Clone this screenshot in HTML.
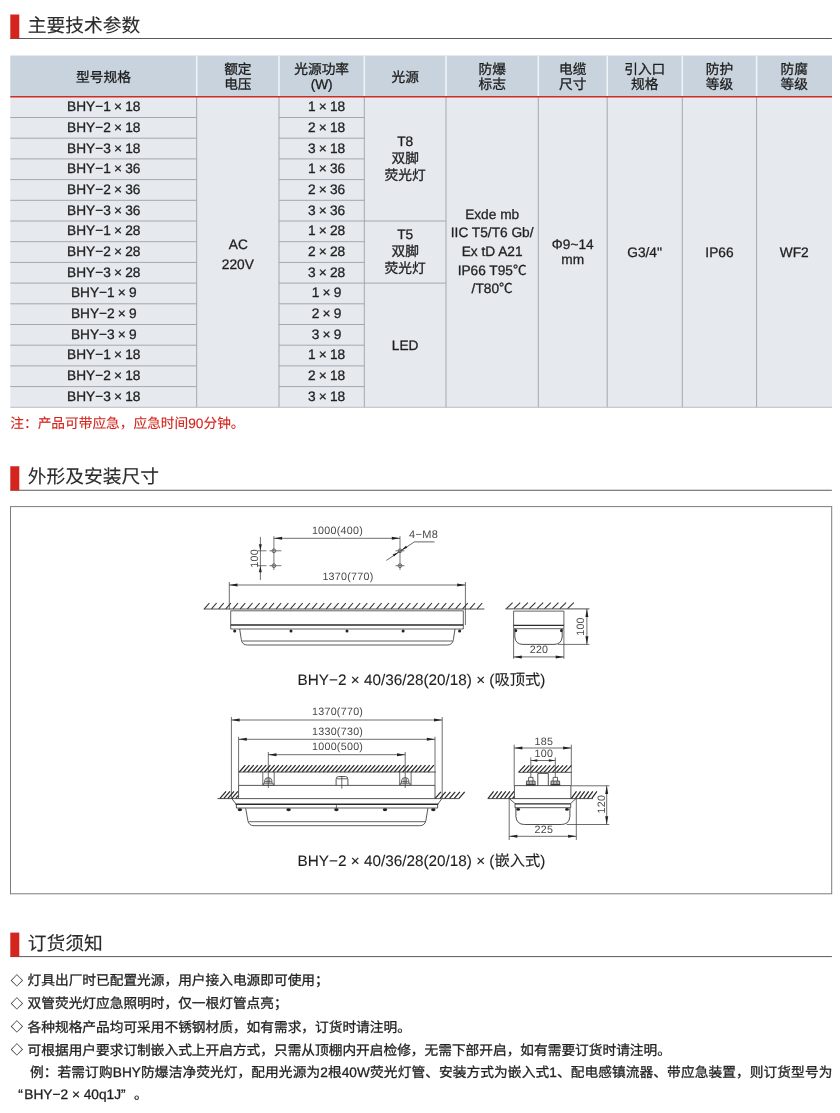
<!DOCTYPE html>
<html lang="zh-CN"><head><meta charset="utf-8"><title>主要技术参数</title><style>
html,body{margin:0;padding:0;background:#fff}
body{width:840px;height:1113px;position:relative;overflow:hidden;font-family:"Liberation Sans",sans-serif;font-size:13.7px;color:#1f1f1f;text-rendering:geometricPrecision}
#page{position:absolute;left:0;top:0;width:840px;height:1113px;will-change:transform;-webkit-text-stroke:0.3px currentColor}
svg.bg{position:absolute;left:0;top:0;-webkit-text-stroke:0}
h2.st{position:absolute;left:27.8px;margin:0;font-weight:normal;font-size:18.75px;line-height:26px;white-space:nowrap;color:#2a2a2a;-webkit-text-stroke:0.12px #2a2a2a}
.th{position:absolute;text-align:center;font-size:13.7px;line-height:15.7px;font-weight:500;-webkit-text-stroke:0.3px #1c1c1c;white-space:nowrap;color:#1c1c1c}
.th:first-of-type{}
.col{position:absolute;text-align:center;white-space:nowrap;word-spacing:-0.6px;text-indent:0.6px}
.col div{height:20.7px;line-height:20.7px}
.tc{position:absolute;text-align:center;white-space:nowrap}
.note{position:absolute;color:#d3241d;white-space:nowrap;line-height:23px;-webkit-text-stroke:0.12px #d3241d}
.li{position:absolute;left:10.3px;white-space:nowrap;line-height:23px}
.dm{display:inline-block;width:17.3px;font-size:12.2px;text-indent:0.5px;-webkit-text-stroke:0.1px currentColor;vertical-align:0.3px}
.ex{position:absolute;white-space:nowrap;line-height:23px;letter-spacing:0.09px}
.ex2{position:absolute;white-space:nowrap;line-height:23px}
.cap{position:absolute;left:221.5px;width:400px;text-align:center;font-size:15.3px;line-height:22px;white-space:nowrap;color:#1f1f1f;-webkit-text-stroke:0.1px #1f1f1f}
svg text{font-family:"Liberation Sans",sans-serif;letter-spacing:0.28px}
</style></head>
<body>
<div id="page">
<svg class="bg" width="840" height="1113" viewBox="0 0 840 1113">
<line x1="10.30" y1="38.50" x2="831.90" y2="38.50" stroke="#5a5a5a" stroke-width="1"/>
<rect x="10.30" y="14.50" width="9.00" height="24.20" fill="#d3241d"/>
<line x1="10.30" y1="490.25" x2="831.90" y2="490.25" stroke="#5a5a5a" stroke-width="1"/>
<rect x="10.30" y="466.25" width="9.00" height="24.20" fill="#d3241d"/>
<line x1="10.30" y1="956.60" x2="831.90" y2="956.60" stroke="#5a5a5a" stroke-width="1"/>
<rect x="10.30" y="932.60" width="9.00" height="24.20" fill="#d3241d"/>
<rect x="10.30" y="55.50" width="821.70" height="41.30" fill="#c8d3dd"/>
<rect x="10.30" y="96.80" width="821.70" height="310.50" fill="#e6eaee"/>
<line x1="196.70" y1="55.50" x2="196.70" y2="96.80" stroke="#eef3f6" stroke-width="1.6"/>
<line x1="196.70" y1="96.80" x2="196.70" y2="407.30" stroke="#a3a8af" stroke-width="1"/>
<line x1="279.00" y1="55.50" x2="279.00" y2="96.80" stroke="#eef3f6" stroke-width="1.6"/>
<line x1="279.00" y1="96.80" x2="279.00" y2="407.30" stroke="#a3a8af" stroke-width="1"/>
<line x1="364.30" y1="55.50" x2="364.30" y2="96.80" stroke="#eef3f6" stroke-width="1.6"/>
<line x1="364.30" y1="96.80" x2="364.30" y2="407.30" stroke="#a3a8af" stroke-width="1"/>
<line x1="446.00" y1="55.50" x2="446.00" y2="96.80" stroke="#eef3f6" stroke-width="1.6"/>
<line x1="446.00" y1="96.80" x2="446.00" y2="407.30" stroke="#a3a8af" stroke-width="1"/>
<line x1="538.30" y1="55.50" x2="538.30" y2="96.80" stroke="#eef3f6" stroke-width="1.6"/>
<line x1="538.30" y1="96.80" x2="538.30" y2="407.30" stroke="#a3a8af" stroke-width="1"/>
<line x1="607.20" y1="55.50" x2="607.20" y2="96.80" stroke="#eef3f6" stroke-width="1.6"/>
<line x1="607.20" y1="96.80" x2="607.20" y2="407.30" stroke="#a3a8af" stroke-width="1"/>
<line x1="682.30" y1="55.50" x2="682.30" y2="96.80" stroke="#eef3f6" stroke-width="1.6"/>
<line x1="682.30" y1="96.80" x2="682.30" y2="407.30" stroke="#a3a8af" stroke-width="1"/>
<line x1="756.60" y1="55.50" x2="756.60" y2="96.80" stroke="#eef3f6" stroke-width="1.6"/>
<line x1="756.60" y1="96.80" x2="756.60" y2="407.30" stroke="#a3a8af" stroke-width="1"/>
<line x1="10.30" y1="117.50" x2="196.70" y2="117.50" stroke="#a3a8af" stroke-width="1"/>
<line x1="279.00" y1="117.50" x2="364.30" y2="117.50" stroke="#a3a8af" stroke-width="1"/>
<line x1="10.30" y1="138.20" x2="196.70" y2="138.20" stroke="#a3a8af" stroke-width="1"/>
<line x1="279.00" y1="138.20" x2="364.30" y2="138.20" stroke="#a3a8af" stroke-width="1"/>
<line x1="10.30" y1="158.90" x2="196.70" y2="158.90" stroke="#a3a8af" stroke-width="1"/>
<line x1="279.00" y1="158.90" x2="364.30" y2="158.90" stroke="#a3a8af" stroke-width="1"/>
<line x1="10.30" y1="179.60" x2="196.70" y2="179.60" stroke="#a3a8af" stroke-width="1"/>
<line x1="279.00" y1="179.60" x2="364.30" y2="179.60" stroke="#a3a8af" stroke-width="1"/>
<line x1="10.30" y1="200.30" x2="196.70" y2="200.30" stroke="#a3a8af" stroke-width="1"/>
<line x1="279.00" y1="200.30" x2="364.30" y2="200.30" stroke="#a3a8af" stroke-width="1"/>
<line x1="10.30" y1="221.00" x2="196.70" y2="221.00" stroke="#a3a8af" stroke-width="1"/>
<line x1="279.00" y1="221.00" x2="364.30" y2="221.00" stroke="#a3a8af" stroke-width="1"/>
<line x1="10.30" y1="241.70" x2="196.70" y2="241.70" stroke="#a3a8af" stroke-width="1"/>
<line x1="279.00" y1="241.70" x2="364.30" y2="241.70" stroke="#a3a8af" stroke-width="1"/>
<line x1="10.30" y1="262.40" x2="196.70" y2="262.40" stroke="#a3a8af" stroke-width="1"/>
<line x1="279.00" y1="262.40" x2="364.30" y2="262.40" stroke="#a3a8af" stroke-width="1"/>
<line x1="10.30" y1="283.10" x2="196.70" y2="283.10" stroke="#a3a8af" stroke-width="1"/>
<line x1="279.00" y1="283.10" x2="364.30" y2="283.10" stroke="#a3a8af" stroke-width="1"/>
<line x1="10.30" y1="303.80" x2="196.70" y2="303.80" stroke="#a3a8af" stroke-width="1"/>
<line x1="279.00" y1="303.80" x2="364.30" y2="303.80" stroke="#a3a8af" stroke-width="1"/>
<line x1="10.30" y1="324.50" x2="196.70" y2="324.50" stroke="#a3a8af" stroke-width="1"/>
<line x1="279.00" y1="324.50" x2="364.30" y2="324.50" stroke="#a3a8af" stroke-width="1"/>
<line x1="10.30" y1="345.20" x2="196.70" y2="345.20" stroke="#a3a8af" stroke-width="1"/>
<line x1="279.00" y1="345.20" x2="364.30" y2="345.20" stroke="#a3a8af" stroke-width="1"/>
<line x1="10.30" y1="365.90" x2="196.70" y2="365.90" stroke="#a3a8af" stroke-width="1"/>
<line x1="279.00" y1="365.90" x2="364.30" y2="365.90" stroke="#a3a8af" stroke-width="1"/>
<line x1="10.30" y1="386.60" x2="196.70" y2="386.60" stroke="#a3a8af" stroke-width="1"/>
<line x1="279.00" y1="386.60" x2="364.30" y2="386.60" stroke="#a3a8af" stroke-width="1"/>
<line x1="364.30" y1="221.00" x2="446.00" y2="221.00" stroke="#a3a8af" stroke-width="1"/>
<line x1="364.30" y1="283.10" x2="446.00" y2="283.10" stroke="#a3a8af" stroke-width="1"/>
<line x1="10.30" y1="407.30" x2="832.00" y2="407.30" stroke="#b9bec4" stroke-width="1"/>
<line x1="10.30" y1="96.80" x2="832.00" y2="96.80" stroke="#cf2b24" stroke-width="1.6"/>
<rect x="10.5" y="506.6" width="821.2" height="387.2" fill="#fff" stroke="#7c7c7c" stroke-width="1"/>
<g fill="none" stroke-linecap="butt">
<text x="337.5" y="533.6" font-size="10.7" text-anchor="middle" fill="#484848">1000(400)</text>
<path d="M273.9 538.3L400.0 538.3" stroke="#3f3f3f" stroke-width="0.75"/>
<path d="M273.9 538.3L282.1 536.8L282.1 539.8Z" fill="#222"/>
<path d="M400.0 538.3L391.8 539.8L391.8 536.8Z" fill="#222"/>
<path d="M273.9 536.2L273.9 570.0" stroke="#3f3f3f" stroke-width="0.7"/>
<circle cx="273.9" cy="550.8" r="1.9" stroke="#3b3b3b" stroke-width="0.7"/>
<path d="M269.4 550.8L281.4 550.8" stroke="#3f3f3f" stroke-width="0.7"/>
<circle cx="273.9" cy="565.7" r="1.9" stroke="#3b3b3b" stroke-width="0.7"/>
<path d="M269.4 565.7L281.4 565.7" stroke="#3f3f3f" stroke-width="0.7"/>
<path d="M400.0 536.2L400.0 570.0" stroke="#3f3f3f" stroke-width="0.7"/>
<circle cx="400.0" cy="550.8" r="1.9" stroke="#3b3b3b" stroke-width="0.7"/>
<path d="M395.5 550.8L404.5 550.8" stroke="#3f3f3f" stroke-width="0.7"/>
<circle cx="400.0" cy="565.7" r="1.9" stroke="#3b3b3b" stroke-width="0.7"/>
<path d="M395.5 565.7L404.5 565.7" stroke="#3f3f3f" stroke-width="0.7"/>
<path d="M260.4 536.9L260.4 580.0" stroke="#3f3f3f" stroke-width="0.75"/>
<path d="M260.4 550.8L258.9 544.2L261.8 544.2Z" fill="#222"/>
<path d="M260.4 565.7L261.8 572.3L258.9 572.3Z" fill="#222"/>
<path d="M257.6 550.8L266.5 550.8" stroke="#3f3f3f" stroke-width="0.7"/>
<path d="M257.6 565.7L266.5 565.7" stroke="#3f3f3f" stroke-width="0.7"/>
<text x="258.0" y="558.3" font-size="10.7" text-anchor="middle" fill="#484848" transform="rotate(-90 258.0 558.3)">100</text>
<path d="M386.4 560.4L414.3 541.9" stroke="#3f3f3f" stroke-width="0.8"/>
<path d="M414.3 541.9L434.5 541.9" stroke="#3f3f3f" stroke-width="0.8"/>
<path d="M398.7 551.9L394.0 556.5L392.7 554.5Z" fill="#222"/>
<path d="M401.3 550.3L406.0 545.7L407.3 547.7Z" fill="#222"/>
<text x="423.6" y="538.4" font-size="11" text-anchor="middle" fill="#484848">4−M8</text>
<text x="348.0" y="580.3" font-size="10.7" text-anchor="middle" fill="#484848">1370(770)</text>
<path d="M229.3 585.0L465.4 585.0" stroke="#3f3f3f" stroke-width="0.75"/>
<path d="M229.3 585.0L237.5 583.5L237.5 586.5Z" fill="#222"/>
<path d="M465.4 585.0L457.2 586.5L457.2 583.5Z" fill="#222"/>
<path d="M229.3 582.0L229.3 609.0" stroke="#3f3f3f" stroke-width="0.75"/>
<path d="M465.4 582.0L465.4 625.0" stroke="#3f3f3f" stroke-width="0.75"/>
<path d="M203.6 609.0L484.4 609.0" stroke="#3b3b3b" stroke-width="0.9"/>
<path d="M204.3 608.8l5.1 -5.8M211.5 608.8l5.1 -5.8M218.7 608.8l5.1 -5.8M225.8 608.8l5.1 -5.8M233.0 608.8l5.1 -5.8M240.2 608.8l5.1 -5.8M247.4 608.8l5.1 -5.8M254.6 608.8l5.1 -5.8M261.7 608.8l5.1 -5.8M268.9 608.8l5.1 -5.8M276.1 608.8l5.1 -5.8M283.3 608.8l5.1 -5.8M290.4 608.8l5.1 -5.8M297.6 608.8l5.1 -5.8M304.8 608.8l5.1 -5.8M312.0 608.8l5.1 -5.8M319.2 608.8l5.1 -5.8M326.3 608.8l5.1 -5.8M333.5 608.8l5.1 -5.8M340.7 608.8l5.1 -5.8M347.9 608.8l5.1 -5.8M355.1 608.8l5.1 -5.8M362.2 608.8l5.1 -5.8M369.4 608.8l5.1 -5.8M376.6 608.8l5.1 -5.8M383.8 608.8l5.1 -5.8M391.0 608.8l5.1 -5.8M398.1 608.8l5.1 -5.8M405.3 608.8l5.1 -5.8M412.5 608.8l5.1 -5.8M419.7 608.8l5.1 -5.8M426.8 608.8l5.1 -5.8M434.0 608.8l5.1 -5.8M441.2 608.8l5.1 -5.8M448.4 608.8l5.1 -5.8M455.6 608.8l5.1 -5.8M462.7 608.8l5.1 -5.8M469.9 608.8l5.1 -5.8M477.1 608.8l5.1 -5.8" stroke="#333" stroke-width="1.1"/>
<path d="M230.7 610.8H463.3V629H230.7Z" stroke="#3b3b3b" stroke-width="0.8" fill="none"/>
<path d="M230.7 625.0L463.3 625.0" stroke="#2a2a2a" stroke-width="1.3"/>
<ellipse cx="234.7" cy="631.0" rx="1.5" ry="1.5" fill="#222"/>
<ellipse cx="291.0" cy="631.0" rx="1.5" ry="1.5" fill="#222"/>
<ellipse cx="347.0" cy="631.0" rx="1.5" ry="1.5" fill="#222"/>
<ellipse cx="403.1" cy="631.0" rx="1.5" ry="1.5" fill="#222"/>
<ellipse cx="459.6" cy="631.0" rx="1.5" ry="1.5" fill="#222"/>
<path d="M239.7 629L241.3 639.5Q242 645 247.5 645H447.3Q452.6 645 453.4 639.5L455 629" stroke="#3b3b3b" stroke-width="0.85" fill="none"/>
<path d="M242.4 641.0L452.6 641.0" stroke="#3b3b3b" stroke-width="0.8"/>
<text x="421.5" y="685.0" font-size="1" text-anchor="middle" fill="#484848"></text>
<path d="M505.3 608.9L589.4 608.9" stroke="#3b3b3b" stroke-width="0.9"/>
<path d="M506.4 608.7l6.2 -6.0M514.0 608.7l6.2 -6.0M521.7 608.7l6.2 -6.0M529.3 608.7l6.2 -6.0M537.0 608.7l6.2 -6.0M544.6 608.7l6.2 -6.0M552.3 608.7l6.2 -6.0M559.9 608.7l6.2 -6.0M567.6 608.7l6.2 -6.0" stroke="#333" stroke-width="1.05"/>
<path d="M513.6 611.1H563.9V628.7H513.6Z" stroke="#3b3b3b" stroke-width="0.8" fill="none"/>
<path d="M513.6 625.4L563.9 625.4" stroke="#2a2a2a" stroke-width="1.3"/>
<path d="M514.8 628.7V637Q515.5 644.4 523 644.4H554Q561.4 644.4 562.2 637V628.7" stroke="#3b3b3b" stroke-width="0.9" fill="none"/>
<ellipse cx="515.9" cy="630.6" rx="1.3" ry="1.6" fill="#222"/>
<ellipse cx="561.3" cy="630.6" rx="1.3" ry="1.6" fill="#222"/>
<path d="M513.6 629.0L513.6 658.8" stroke="#3f3f3f" stroke-width="0.75"/>
<path d="M563.9 629.0L563.9 658.8" stroke="#3f3f3f" stroke-width="0.75"/>
<path d="M513.6 656.9L563.9 656.9" stroke="#3f3f3f" stroke-width="0.75"/>
<path d="M513.6 656.9L521.8 655.4L521.8 658.4Z" fill="#222"/>
<path d="M563.9 656.9L555.7 658.4L555.7 655.4Z" fill="#222"/>
<text x="539.0" y="653.4" font-size="10.7" text-anchor="middle" fill="#484848">220</text>
<path d="M557.9 644.4L589.4 644.4" stroke="#3f3f3f" stroke-width="0.75"/>
<path d="M586.9 608.9L586.9 644.4" stroke="#3f3f3f" stroke-width="0.75"/>
<path d="M586.9 608.9L588.4 617.1L585.4 617.1Z" fill="#222"/>
<path d="M586.9 644.4L585.4 636.2L588.4 636.2Z" fill="#222"/>
<text x="584.0" y="626.5" font-size="10.7" text-anchor="middle" fill="#484848" transform="rotate(-90 584.0 626.5)">100</text>
<text x="337.6" y="715.4" font-size="10.7" text-anchor="middle" fill="#484848">1370(770)</text>
<path d="M231.4 720.0L442.2 720.0" stroke="#3f3f3f" stroke-width="0.75"/>
<path d="M231.4 720.0L239.6 718.5L239.6 721.5Z" fill="#222"/>
<path d="M442.2 720.0L434.0 721.5L434.0 718.5Z" fill="#222"/>
<path d="M231.4 717.0L231.4 798.6" stroke="#3f3f3f" stroke-width="0.75"/>
<path d="M442.2 717.0L442.2 798.6" stroke="#3f3f3f" stroke-width="0.75"/>
<text x="337.6" y="735.0" font-size="10.7" text-anchor="middle" fill="#484848">1330(730)</text>
<path d="M238.6 739.3L435.0 739.3" stroke="#3f3f3f" stroke-width="0.75"/>
<path d="M238.6 739.3L246.8 737.8L246.8 740.8Z" fill="#222"/>
<path d="M435.0 739.3L426.8 740.8L426.8 737.8Z" fill="#222"/>
<path d="M238.6 736.8L238.6 785.4" stroke="#3f3f3f" stroke-width="0.75"/>
<path d="M435.0 736.8L435.0 785.4" stroke="#3f3f3f" stroke-width="0.75"/>
<text x="337.6" y="750.3" font-size="10.7" text-anchor="middle" fill="#484848">1000(500)</text>
<path d="M268.3 754.7L405.2 754.7" stroke="#3f3f3f" stroke-width="0.75"/>
<path d="M268.3 754.7L276.5 753.2L276.5 756.2Z" fill="#222"/>
<path d="M405.2 754.7L397.0 756.2L397.0 753.2Z" fill="#222"/>
<path d="M268.3 752.0L268.3 788.0" stroke="#3f3f3f" stroke-width="0.75"/>
<path d="M405.2 752.0L405.2 788.0" stroke="#3f3f3f" stroke-width="0.75"/>
<path d="M239.3 772.0l6.0 -6.9M243.5 772.0l6.0 -6.9M247.7 772.0l6.0 -6.9M251.9 772.0l6.0 -6.9M256.1 772.0l6.0 -6.9M260.2 772.0l6.0 -6.9M264.4 772.0l6.0 -6.9M268.6 772.0l6.0 -6.9M272.8 772.0l6.0 -6.9M277.0 772.0l6.0 -6.9M281.2 772.0l6.0 -6.9M285.4 772.0l6.0 -6.9M289.6 772.0l6.0 -6.9M293.8 772.0l6.0 -6.9M298.0 772.0l6.0 -6.9M302.1 772.0l6.0 -6.9M306.3 772.0l6.0 -6.9M310.5 772.0l6.0 -6.9M314.7 772.0l6.0 -6.9M318.9 772.0l6.0 -6.9M323.1 772.0l6.0 -6.9M327.3 772.0l6.0 -6.9M331.5 772.0l6.0 -6.9M335.7 772.0l6.0 -6.9M339.9 772.0l6.0 -6.9M344.0 772.0l6.0 -6.9M348.2 772.0l6.0 -6.9M352.4 772.0l6.0 -6.9M356.6 772.0l6.0 -6.9M360.8 772.0l6.0 -6.9M365.0 772.0l6.0 -6.9M369.2 772.0l6.0 -6.9M373.4 772.0l6.0 -6.9M377.6 772.0l6.0 -6.9M381.8 772.0l6.0 -6.9M385.9 772.0l6.0 -6.9M390.1 772.0l6.0 -6.9M394.3 772.0l6.0 -6.9M398.5 772.0l6.0 -6.9M402.7 772.0l6.0 -6.9M406.9 772.0l6.0 -6.9M411.1 772.0l6.0 -6.9M415.3 772.0l6.0 -6.9M419.5 772.0l6.0 -6.9M423.7 772.0l6.0 -6.9M427.8 772.0l6.0 -6.9" stroke="#2c2c2c" stroke-width="1.25"/>
<path d="M238.6 772.0L435.7 772.0" stroke="#3b3b3b" stroke-width="0.9"/>
<path d="M262.8 772.0L262.8 785.4" stroke="#3b3b3b" stroke-width="0.75"/>
<path d="M274.2 772.0L274.2 785.4" stroke="#3b3b3b" stroke-width="0.75"/>
<path d="M264.7 783.2V780.6Q264.9 777.6 268.3 777.6Q271.7 777.6 271.9 780.6V783.2" stroke="#3b3b3b" stroke-width="0.8" fill="none"/>
<path d="M263.3 783.3H273.3V785.2H263.3Z" stroke="#3b3b3b" stroke-width="0.7" fill="none"/>
<path d="M264.7 781.4L271.9 781.4" stroke="#3b3b3b" stroke-width="0.7"/>
<path d="M267.0 778.2L267.0 783.2" stroke="#3b3b3b" stroke-width="0.6"/>
<path d="M269.6 778.2L269.6 783.2" stroke="#3b3b3b" stroke-width="0.6"/>
<path d="M399.7 772.0L399.7 785.4" stroke="#3b3b3b" stroke-width="0.75"/>
<path d="M411.1 772.0L411.1 785.4" stroke="#3b3b3b" stroke-width="0.75"/>
<path d="M401.6 783.2V780.6Q401.8 777.6 405.2 777.6Q408.6 777.6 408.8 780.6V783.2" stroke="#3b3b3b" stroke-width="0.8" fill="none"/>
<path d="M400.2 783.3H410.2V785.2H400.2Z" stroke="#3b3b3b" stroke-width="0.7" fill="none"/>
<path d="M401.6 781.4L408.8 781.4" stroke="#3b3b3b" stroke-width="0.7"/>
<path d="M403.9 778.2L403.9 783.2" stroke="#3b3b3b" stroke-width="0.6"/>
<path d="M406.5 778.2L406.5 783.2" stroke="#3b3b3b" stroke-width="0.6"/>
<path d="M336.1 785.4V779.4Q336.1 776.5 338.6 776.5H345.4Q347.9 776.5 347.9 779.4V785.4" stroke="#3b3b3b" stroke-width="0.85" fill="none"/>
<path d="M336.8 778.8L347.2 778.8" stroke="#3b3b3b" stroke-width="0.8"/>
<path d="M341.8 776.0L341.8 788.6" stroke="#3b3b3b" stroke-width="0.75"/>
<path d="M238.6 798.6V785.4H435V798.6" stroke="#3b3b3b" stroke-width="0.85" fill="none"/>
<path d="M231.4 798.6L442.2 798.6" stroke="#3b3b3b" stroke-width="0.85"/>
<path d="M217.5 798.6L231.4 798.6" stroke="#3b3b3b" stroke-width="0.9"/>
<path d="M442.2 798.6L459.4 798.6" stroke="#3b3b3b" stroke-width="0.9"/>
<path d="M220.0 798.4L226.1 791.4M223.9 798.4L230.0 791.4M227.9 798.4L234.0 791.4M231.8 798.4L237.9 791.4M235.7 798.4L238.4 795.3" stroke="#2c2c2c" stroke-width="1.25"/>
<path d="M435.2 798.4L440.9 791.8M440.0 798.4L445.7 791.8M444.7 798.4L450.4 791.8M449.5 798.4L455.2 791.8M454.2 798.4L459.9 791.8M459.0 798.4L464.7 791.8" stroke="#2c2c2c" stroke-width="1.25"/>
<path d="M231.8 798.6L236.4 804.6V808.0H437.6V804.6L441.8 798.6" stroke="#3b3b3b" stroke-width="0.85" fill="none"/>
<path d="M235.6 804.3L438.2 804.3" stroke="#2a2a2a" stroke-width="1.5"/>
<path d="M336.4 804.3L336.4 808.0" stroke="#3b3b3b" stroke-width="0.7"/>
<ellipse cx="239.9" cy="809.8" rx="2.2" ry="1.45" fill="#222"/>
<ellipse cx="288.6" cy="809.8" rx="2.2" ry="1.45" fill="#222"/>
<ellipse cx="336.4" cy="809.8" rx="2.2" ry="1.45" fill="#222"/>
<ellipse cx="385.0" cy="809.8" rx="2.2" ry="1.45" fill="#222"/>
<ellipse cx="433.3" cy="809.8" rx="2.2" ry="1.45" fill="#222"/>
<path d="M245.7 808.3L247.8 820.5Q248.8 825.7 254.0 825.7H419.6Q424.9 825.7 425.9 820.5L427.9 808.3" stroke="#3b3b3b" stroke-width="0.85" fill="none"/>
<path d="M248.4 821.7L425.4 821.7" stroke="#3b3b3b" stroke-width="0.8"/>
<text x="543.8" y="744.6" font-size="10.7" text-anchor="middle" fill="#484848">185</text>
<path d="M514.2 748.0L571.3 748.0" stroke="#3f3f3f" stroke-width="0.75"/>
<path d="M514.2 748.0L522.4 746.5L522.4 749.5Z" fill="#222"/>
<path d="M571.3 748.0L563.1 749.5L563.1 746.5Z" fill="#222"/>
<path d="M514.2 744.7L514.2 785.8" stroke="#3f3f3f" stroke-width="0.75"/>
<path d="M571.3 744.7L571.3 785.8" stroke="#3f3f3f" stroke-width="0.75"/>
<text x="543.8" y="757.4" font-size="10.7" text-anchor="middle" fill="#484848">100</text>
<path d="M530.8 760.5L555.3 760.5" stroke="#3f3f3f" stroke-width="0.75"/>
<path d="M530.8 760.5L537.3 759.3L537.3 761.7Z" fill="#222"/>
<path d="M555.3 760.5L548.8 761.7L548.8 759.3Z" fill="#222"/>
<path d="M530.8 757.5L530.8 777.4" stroke="#3f3f3f" stroke-width="0.75"/>
<path d="M555.3 757.5L555.3 777.4" stroke="#3f3f3f" stroke-width="0.75"/>
<path d="M518.8 772.2l6.3 -6.9M523.0 772.2l6.3 -6.9M527.2 772.2l6.3 -6.9M531.4 772.2l6.3 -6.9M535.6 772.2l6.3 -6.9M539.9 772.2l6.3 -6.9M544.1 772.2l6.3 -6.9M548.3 772.2l6.3 -6.9M552.5 772.2l6.3 -6.9M556.7 772.2l6.3 -6.9M560.9 772.2l6.3 -6.9M565.1 772.2l6.3 -6.9" stroke="#2c2c2c" stroke-width="1.25"/>
<path d="M518.3 772.3L571.7 772.3" stroke="#3b3b3b" stroke-width="0.9"/>
<path d="M537.8 785.8V773.4H548.3V785.8" stroke="#3b3b3b" stroke-width="0.9" fill="none"/>
<path d="M528.6 781V777.4H533.0V781" stroke="#3b3b3b" stroke-width="0.8" fill="none"/>
<path d="M526.5 781H535.1V784.4H526.5Z" stroke="#3b3b3b" stroke-width="0.8" fill="#bbb"/>
<path d="M529.2 781.0L529.2 784.4" stroke="#3b3b3b" stroke-width="0.6"/>
<path d="M532.4 781.0L532.4 784.4" stroke="#3b3b3b" stroke-width="0.6"/>
<path d="M525.8 785.0L535.8 785.0" stroke="#2a2a2a" stroke-width="1.3"/>
<path d="M553.1 781V777.4H557.5V781" stroke="#3b3b3b" stroke-width="0.8" fill="none"/>
<path d="M551.0 781H559.6V784.4H551.0Z" stroke="#3b3b3b" stroke-width="0.8" fill="#bbb"/>
<path d="M553.7 781.0L553.7 784.4" stroke="#3b3b3b" stroke-width="0.6"/>
<path d="M556.9 781.0L556.9 784.4" stroke="#3b3b3b" stroke-width="0.6"/>
<path d="M550.3 785.0L560.3 785.0" stroke="#2a2a2a" stroke-width="1.3"/>
<path d="M514.4 798.5V785.6H570.9V798.5" stroke="#3b3b3b" stroke-width="0.85" fill="none"/>
<path d="M487.5 798.6L593.0 798.6" stroke="#3b3b3b" stroke-width="0.9"/>
<path d="M488.2 798.4L493.6 791.4M492.3 798.4L497.7 791.4M496.3 798.4L501.7 791.4M500.4 798.4L505.8 791.4M504.5 798.4L509.9 791.4M508.6 798.4L514.0 791.4M512.6 798.4L514.2 796.4" stroke="#2c2c2c" stroke-width="1.25"/>
<path d="M571.4 798.4L576.5 791.4M575.5 798.4L580.6 791.4M579.5 798.4L584.6 791.4M583.6 798.4L588.7 791.4M587.7 798.4L592.8 791.4M591.8 798.4L596.9 791.4" stroke="#2c2c2c" stroke-width="1.25"/>
<path d="M509.3 798.5L515.4 803.9M570.3 803.9L576.0 798.5" stroke="#3b3b3b" stroke-width="0.85" fill="none"/>
<path d="M515.0 803.9L570.7 803.9" stroke="#2a2a2a" stroke-width="1.4"/>
<path d="M515.0 803.8V807.7H570.7V803.8" stroke="#3b3b3b" stroke-width="0.85" fill="none"/>
<path d="M515.9 807.7V816.5Q516.6 824.5 524.6 824.5H561.2Q569.2 824.5 569.9 816.5V807.7" stroke="#3b3b3b" stroke-width="0.9" fill="none"/>
<ellipse cx="518.2" cy="809.4" rx="1.9" ry="1.4" fill="#222"/>
<ellipse cx="567.0" cy="809.4" rx="1.9" ry="1.4" fill="#222"/>
<text x="543.8" y="833.0" font-size="10.7" text-anchor="middle" fill="#484848">225</text>
<path d="M509.2 836.3L576.3 836.3" stroke="#3f3f3f" stroke-width="0.75"/>
<path d="M509.2 836.3L517.4 834.8L517.4 837.8Z" fill="#222"/>
<path d="M576.3 836.3L568.1 837.8L568.1 834.8Z" fill="#222"/>
<path d="M509.2 798.3L509.2 840.0" stroke="#3f3f3f" stroke-width="0.75"/>
<path d="M576.3 798.3L576.3 840.0" stroke="#3f3f3f" stroke-width="0.75"/>
<path d="M571.3 785.8L609.3 785.8" stroke="#3f3f3f" stroke-width="0.75"/>
<path d="M566.7 824.5L609.3 824.5" stroke="#3f3f3f" stroke-width="0.75"/>
<path d="M606.7 785.8L606.7 824.5" stroke="#3f3f3f" stroke-width="0.75"/>
<path d="M606.7 785.8L608.2 794.0L605.2 794.0Z" fill="#222"/>
<path d="M606.7 824.5L605.2 816.3L608.2 816.3Z" fill="#222"/>
<text x="604.6" y="804.2" font-size="10.7" text-anchor="middle" fill="#484848" transform="rotate(-90 604.6 804.2)">120</text>
</g>
</svg>
<h2 class="st" style="top:12.50px">主要技术参数</h2>
<h2 class="st" style="top:464.25px">外形及安装尺寸</h2>
<h2 class="st" style="top:930.60px">订货须知</h2>
<div class="th" style="left:10.30px;width:186.40px;top:70.10px">型号规格</div>
<div class="th" style="left:196.70px;width:82.30px;top:61.70px">额定<br>电压</div>
<div class="th" style="left:279.00px;width:85.30px;top:61.70px">光源功率<br>(W)</div>
<div class="th" style="left:364.30px;width:81.70px;top:70.10px">光源</div>
<div class="th" style="left:446.00px;width:92.30px;top:61.70px">防爆<br>标志</div>
<div class="th" style="left:538.30px;width:68.90px;top:61.70px">电缆<br>尺寸</div>
<div class="th" style="left:607.20px;width:75.10px;top:61.70px">引入口<br>规格</div>
<div class="th" style="left:682.30px;width:74.30px;top:61.70px">防护<br>等级</div>
<div class="th" style="left:756.60px;width:75.40px;top:61.70px">防腐<br>等级</div>
<div class="col" style="left:10.30px;width:186.40px;top:97.20px"><div>BHY−1 × 18</div><div>BHY−2 × 18</div><div>BHY−3 × 18</div><div>BHY−1 × 36</div><div>BHY−2 × 36</div><div>BHY−3 × 36</div><div>BHY−1 × 28</div><div>BHY−2 × 28</div><div>BHY−3 × 28</div><div>BHY−1 × 9</div><div>BHY−2 × 9</div><div>BHY−3 × 9</div><div>BHY−1 × 18</div><div>BHY−2 × 18</div><div>BHY−3 × 18</div></div>
<div class="col" style="left:283.60px;width:85.30px;top:97.20px"><div>1 × 18</div><div>2 × 18</div><div>3 × 18</div><div>1 × 36</div><div>2 × 36</div><div>3 × 36</div><div>1 × 28</div><div>2 × 28</div><div>3 × 28</div><div>1 × 9</div><div>2 × 9</div><div>3 × 9</div><div>1 × 18</div><div>2 × 18</div><div>3 × 18</div></div>
<div class="tc" style="left:196.70px;width:82.30px;top:234.60px;line-height:20.0px;text-indent:1px">AC<br>220V</div>
<div class="tc" style="left:364.30px;width:81.70px;top:132.90px;line-height:17.0px;">T8<br>双脚<br>荧光灯</div>
<div class="tc" style="left:364.30px;width:81.70px;top:225.50px;line-height:17.0px;">T5<br>双脚<br>荧光灯</div>
<div class="tc" style="left:364.30px;width:81.70px;top:336.50px;line-height:17.0px;">LED</div>
<div class="tc" style="left:446.00px;width:92.30px;top:205.55px;line-height:18.7px;">Exde mb<br>IIC T5/T6 Gb/<br>Ex tD A21<br>IP66 T95℃<br>/T80℃</div>
<div class="tc" style="left:538.30px;width:68.90px;top:237.00px;line-height:15.4px;">Φ9~14<br>mm</div>
<div class="tc" style="left:607.20px;width:75.10px;top:243.50px;line-height:17.0px;">G3/4''</div>
<div class="tc" style="left:682.30px;width:74.30px;top:243.50px;line-height:17.0px;">IP66</div>
<div class="tc" style="left:756.60px;width:75.40px;top:243.50px;line-height:17.0px;">WF2</div>
<div class="note" style="left:10.3px;top:411.6px">注：产品可带应急，应急时间90分钟。</div>
<div class="cap" style="top:669.8px">BHY−2 × 40/36/28(20/18) × (吸顶式)</div>
<div class="cap" style="top:851.4px">BHY−2 × 40/36/28(20/18) × (嵌入式)</div>
<div class="li" style="top:969.30px"><span class="dm">◇</span>灯具出厂时已配置光源，用户接入电源即可使用；</div>
<div class="li" style="top:992.30px"><span class="dm">◇</span>双管荧光灯应急照明时，仅一根灯管点亮；</div>
<div class="li" style="top:1015.50px"><span class="dm">◇</span>各种规格产品均可采用不锈钢材质，如有需求，订货时请注明。</div>
<div class="li" style="top:1038.70px"><span class="dm">◇</span>可根据用户要求订制嵌入式上开启方式，只需从顶棚内开启检修，无需下部开启，如有需要订货时请注明。</div>
<div class="ex" style="top:1061.15px;left:30px;width:802px">例：若需订购BHY防爆洁净荧光灯，配用光源为2根40W荧光灯管、安装方式为嵌入式1、配电感镇流器、带应急装置，则订货型号为</div>
<div class="ex2" style="top:1082.60px;left:18.2px">“<span style="margin-left:1.6px">BHY−2 × 40q1J</span>”<span style="margin-left:8.5px">。</span></div>
</div>
</body></html>
